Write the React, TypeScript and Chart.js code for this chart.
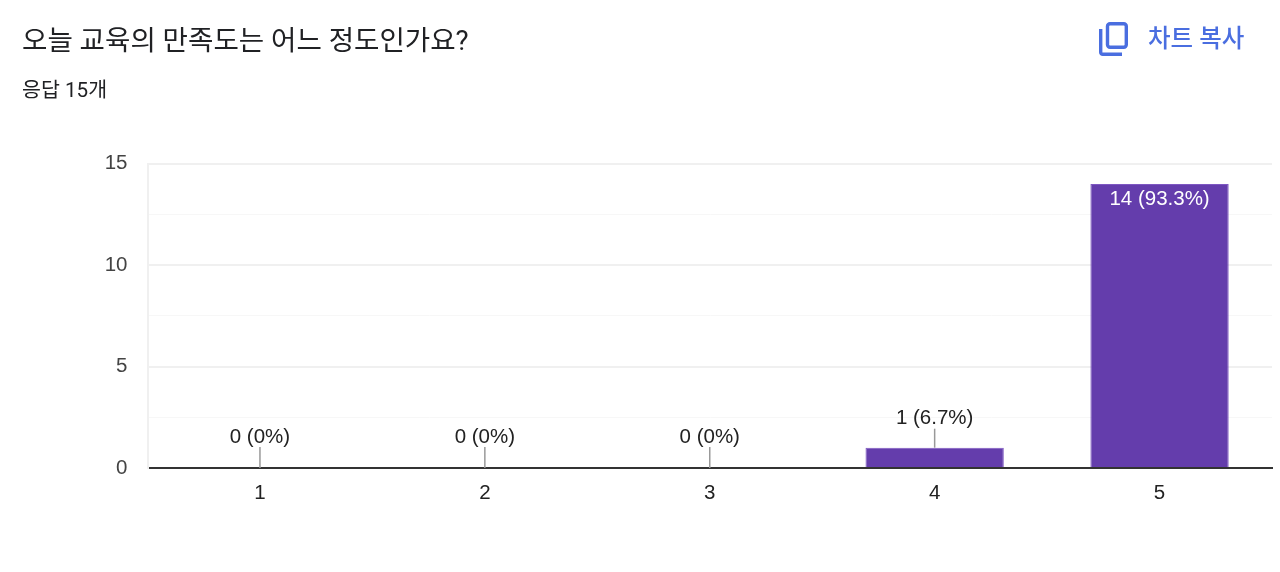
// Survey result bar chart: HTML header above a Chart.js column chart,
// value labels and their leader lines come from a small inline plugin.

import { useEffect, useRef } from "react";
import { Chart, registerables } from "chart.js";

Chart.register(...registerables);

const title = "오늘 교육의 만족도는 어느 정도인가요?";
const subtitle = "응답 15개";
const copyLabel = "차트 복사";

const categories = ["1", "2", "3", "4", "5"];
const counts = [0, 0, 0, 1, 14];
const valueLabels = ["0 (0%)", "0 (0%)", "0 (0%)", "1 (6.7%)", "14 (93.3%)"];
const labelledTicks = [0, 5, 10, 15];

const PURPLE = "#643dac";
const BLUE = "#4a6ee0";
const CHART_FONT = '"Liberation Sans", Arial, sans-serif';
const UI_FONT = 'Roboto, "Noto Sans CJK KR", sans-serif';

const valueLabelPlugin = {
  id: "valueLabels",
  afterDatasetsDraw(chart: Chart) {
    const { ctx } = chart;
    const bars = chart.getDatasetMeta(0).data;
    ctx.save();
    ctx.font = `20.5px ${CHART_FONT}`;
    ctx.textAlign = "center";
    bars.forEach((bar, i) => {
      const { x, y } = bar.getProps(["x", "y"], true) as { x: number; y: number };
      // tall bars carry the label inside, the rest get a leader line
      if (counts[i] > 2) {
        ctx.fillStyle = "#ffffff";
        ctx.textBaseline = "middle";
        ctx.fillText(valueLabels[i], x, y + 15);
        return;
      }
      const leader = counts[i] === 0 ? 21 : 19;
      ctx.strokeStyle = "#999999";
      ctx.lineWidth = 1.5;
      ctx.beginPath();
      ctx.moveTo(x, y);
      ctx.lineTo(x, y - leader);
      ctx.stroke();
      ctx.fillStyle = "#222222";
      ctx.textBaseline = "middle";
      ctx.fillText(valueLabels[i], x, y - leader - 10);
    });
    ctx.restore();
  },
};

export default function App() {
  const canvasRef = useRef<HTMLCanvasElement>(null);

  useEffect(() => {
    document.body.style.margin = "0";
    document.body.style.background = "#ffffff";
    const chart = new Chart(canvasRef.current!, {
      type: "bar",
      data: {
        labels: categories,
        datasets: [
          {
            data: counts,
            backgroundColor: PURPLE,
            borderColor: "#7e57c2",
            borderWidth: 1,
            categoryPercentage: 1,
            barPercentage: 0.615,
          },
        ],
      },
      options: {
        responsive: false,
        animation: false,
        layout: { padding: { top: 163.6, right: 8, bottom: 44, left: 0 } },
        plugins: { legend: { display: false }, tooltip: { enabled: false } },
        scales: {
          x: {
            afterFit: (scale) => {
              scale.height = 60;
            },
            grid: { display: false },
            border: { color: "#333333", width: 2 },
            ticks: {
              color: "#222222",
              padding: 5,
              font: { family: CHART_FONT, size: 20.5 },
            },
          },
          y: {
            min: 0,
            max: 15,
            afterFit: (scale) => {
              scale.width = 147.5;
            },
            afterBuildTicks: (scale) => {
              scale.ticks = [0, 2.5, 5, 7.5, 10, 12.5, 15].map((value) => ({ value }));
            },
            grid: {
              drawTicks: false,
              lineWidth: (c) => (labelledTicks.includes(c.tick.value) ? 2 : 1),
              color: (c) => (labelledTicks.includes(c.tick.value) ? "#f0f0f0" : "#f7f7f7"),
            },
            border: { color: "#f0f0f0", width: 2 },
            ticks: {
              color: "#444444",
              padding: 20,
              autoSkip: false,
              font: { family: CHART_FONT, size: 20.5 },
              callback: (v) => (labelledTicks.includes(Number(v)) ? String(v) : ""),
            },
          },
        },
      },
      plugins: [valueLabelPlugin],
    });
    return () => chart.destroy();
  }, []);

  return (
    <div style={{ position: "relative", width: 1280, height: 572, overflow: "hidden" }}>
      <canvas ref={canvasRef} width={1280} height={572} style={{ display: "block" }} />
      <div
        style={{
          position: "absolute",
          left: 22,
          top: 23,
          fontFamily: UI_FONT,
          fontSize: 27.6,
          lineHeight: "36px",
          color: "#202124",
          whiteSpace: "nowrap",
        }}
      >
        {title}
      </div>
      <div
        style={{
          position: "absolute",
          left: 22,
          top: 77,
          fontFamily: UI_FONT,
          fontSize: 20.6,
          lineHeight: "26px",
          color: "#202124",
          whiteSpace: "nowrap",
        }}
      >
        {subtitle}
      </div>
      <svg
        style={{ position: "absolute", left: 1098, top: 21 }}
        width={32}
        height={36}
        viewBox="0 0 32 36"
        fill="none"
        stroke={BLUE}
        strokeWidth={3.4}
      >
        <rect x={9.5} y={2.7} width={18.8} height={23.6} rx={2.5} />
        <path d="M2.7 8 V31.3 a2 2 0 0 0 2 2 H24" />
      </svg>
      <div
        style={{
          position: "absolute",
          left: 1148,
          top: 22,
          fontFamily: UI_FONT,
          fontSize: 24.5,
          fontWeight: 500,
          lineHeight: "34px",
          color: BLUE,
          whiteSpace: "nowrap",
        }}
      >
        {copyLabel}
      </div>
    </div>
  );
}
